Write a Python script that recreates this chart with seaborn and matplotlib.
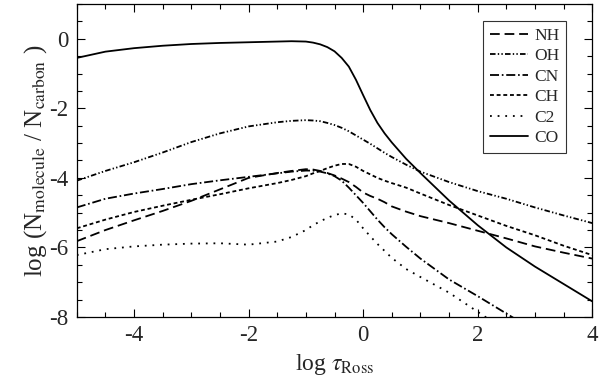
import matplotlib
matplotlib.use("Agg")
import matplotlib.pyplot as plt
import seaborn as sns
import numpy as np
import pandas as pd
from matplotlib.ticker import MultipleLocator

# ---- data ----
log_tau = [-5, -4.5, -4, -3.5, -3, -2.5, -2, -1.5, -1.25, -1, -0.875, -0.75, -0.625,
           -0.5, -0.375, -0.25, -0.125, 0, 0.125, 0.25, 0.375, 0.5, 0.75, 1,
           1.5, 2, 2.5, 3, 3.5, 4]

nh = [-5.82, -5.50, -5.22, -4.95, -4.66, -4.33, -4.00, -3.86, -3.80, -3.75, -3.76, -3.80, -3.86,
      -3.93, -4.02, -4.12, -4.26, -4.42, -4.52, -4.60, -4.70, -4.82, -4.97, -5.10,
      -5.30, -5.52, -5.74, -5.97, -6.15, -6.32]
oh = [-4.08, -3.80, -3.55, -3.27, -2.97, -2.72, -2.52, -2.40, -2.36, -2.34, -2.35, -2.37, -2.42,
      -2.48, -2.56, -2.66, -2.78, -2.90, -3.02, -3.15, -3.28, -3.40, -3.62, -3.82,
      -4.12, -4.38, -4.60, -4.85, -5.08, -5.30]
cn = [-4.85, -4.60, -4.45, -4.32, -4.18, -4.07, -3.97, -3.87, -3.82, -3.79, -3.79, -3.82, -3.87,
      -3.95, -4.08, -4.28, -4.50, -4.72, -4.96, -5.20, -5.42, -5.62, -5.98, -6.32,
      -6.92, -7.40, -7.90, -8.40, -8.90, -9.40]
ch = [-5.45, -5.20, -4.98, -4.80, -4.63, -4.47, -4.30, -4.15, -4.06, -3.95, -3.87, -3.80, -3.72,
      -3.65, -3.60, -3.60, -3.68, -3.80, -3.90, -4.00, -4.08, -4.15, -4.28, -4.45,
      -4.78, -5.08, -5.38, -5.65, -5.95, -6.22]
c2 = [-6.22, -6.05, -5.97, -5.92, -5.89, -5.88, -5.92, -5.83, -5.70, -5.50, -5.36, -5.25, -5.15,
      -5.07, -5.02, -5.05, -5.20, -5.45, -5.68, -5.90, -6.10, -6.30, -6.62, -6.85,
      -7.30, -7.85, -8.40, -8.90, -9.40, -9.90]
co = [-0.55, -0.37, -0.27, -0.20, -0.15, -0.12, -0.10, -0.08, -0.07, -0.08, -0.11, -0.16, -0.24,
      -0.36, -0.55, -0.80, -1.18, -1.62, -2.05, -2.42, -2.72, -2.98, -3.45, -3.86,
      -4.65, -5.36, -6.00, -6.55, -7.05, -7.55]

names = ["NH", "OH", "CN", "CH", "C2", "CO"]
series = [nh, oh, cn, ch, c2, co]

styles = {
    "NH": (0, (7.0, 3.5)),
    "OH": (0, (4.0, 1.6, 1.0, 1.6, 1.0, 1.6)),
    "CN": (0, (6.5, 2.0, 1.2, 2.0)),
    "CH": (0, (2.8, 2.0)),
    "C2": (0, (1.3, 4.2)),
    "CO": "-",
}

sns.set_style("ticks")
plt.rcParams["font.family"] = "serif"
plt.rcParams["font.serif"] = ["Liberation Serif", "Times New Roman", "DejaVu Serif"]
plt.rcParams["mathtext.fontset"] = "stix"
plt.rcParams["axes.unicode_minus"] = False
plt.rcParams["lines.scale_dashes"] = False

fig = plt.figure(figsize=(6, 3.81), dpi=100)
ax = fig.add_axes([0.128, 0.168, 0.859, 0.8215])

for name, vals in zip(names, series):
    df = pd.DataFrame({"x": log_tau, "y": vals})
    sns.lineplot(data=df, x="x", y="y", ax=ax, color="black", lw=1.3,
                 linestyle=styles[name], label=name)

ax.set_xlim(-5, 4)
ax.set_ylim(-8, 1)
ax.xaxis.set_major_locator(MultipleLocator(2))
ax.xaxis.set_minor_locator(MultipleLocator(0.5))
ax.yaxis.set_major_locator(MultipleLocator(2))
ax.yaxis.set_minor_locator(MultipleLocator(0.5))
ax.tick_params(which="both", direction="in", top=True, right=True,
               color="black", width=0.8)
ax.tick_params(which="major", length=6, labelsize=16.5, pad=6)
ax.tick_params(which="minor", length=3.5)
for s in ax.spines.values():
    s.set_linewidth(0.9)
    s.set_color("black")

ax.set_xlabel(r"log $\tau_{\mathrm{Ross}}$", fontsize=17, labelpad=4)
ax.set_ylabel(r"log (N$_{\mathrm{molecule}}$ / N$_{\mathrm{carbon}}$ )", fontsize=18, labelpad=0)

leg = ax.legend(loc="upper right", bbox_to_anchor=(0.9495, 0.946), fontsize=12.5,
                frameon=True, fancybox=False, edgecolor="black", handlelength=2.2,
                handletextpad=0.35, labelspacing=0.25, borderpad=0.4, borderaxespad=0)
leg.get_frame().set_linewidth(0.8)

fig.savefig("out.png", dpi=100)
